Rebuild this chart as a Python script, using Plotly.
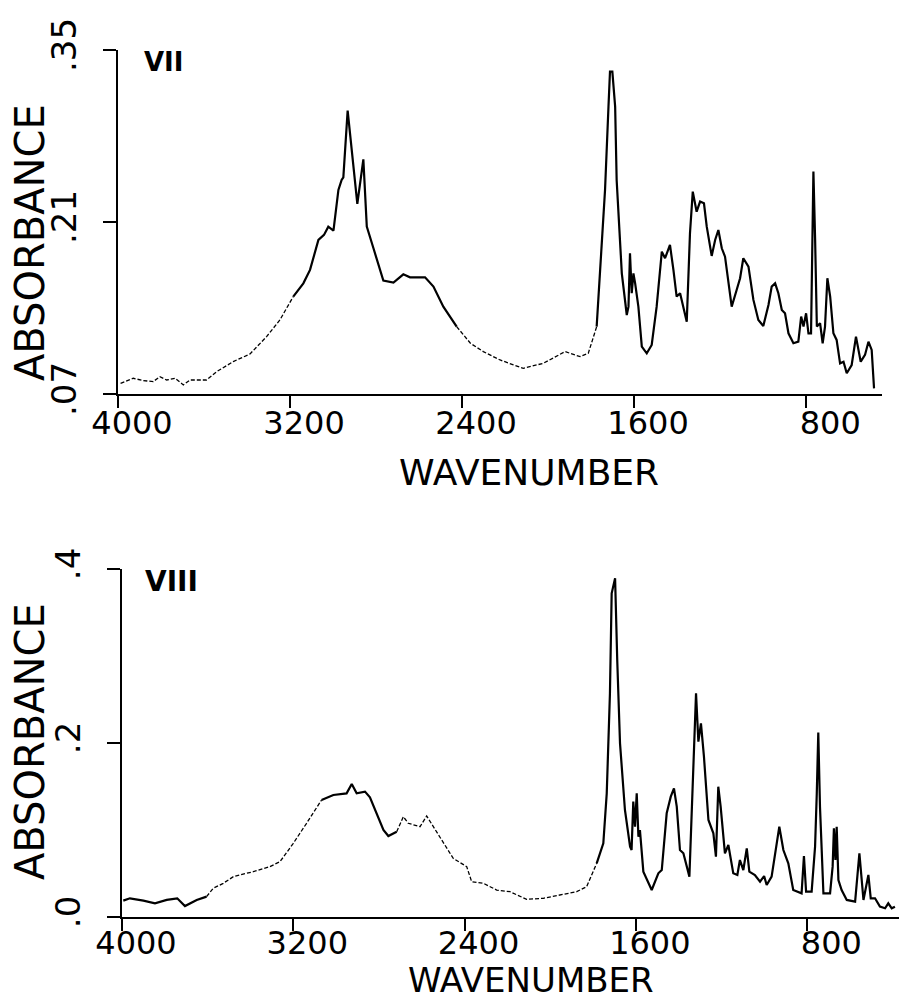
import plotly.graph_objects as go

# ---------------- data ----------------
WN_VII = [3988, 3929, 3882, 3836, 3805, 3774, 3735, 3696, 3665, 3588, 3541, 3464, 3386, 3309,
          3247, 3185, 3138, 3107, 3068, 3042, 3022, 2998, 2975, 2960, 2952, 2932, 2913, 2887,
          2859, 2843, 2812, 2766, 2719, 2673, 2642, 2572, 2533, 2487, 2425, 2361, 2301, 2223,
          2161, 2115, 2022, 1921, 1851, 1813, 1774, 1758, 1735, 1719, 1712, 1701, 1688, 1681,
          1657, 1634, 1626, 1619, 1611, 1603, 1595, 1580, 1564, 1541, 1518, 1495, 1471, 1456,
          1433, 1417, 1402, 1386, 1355, 1340, 1327, 1309, 1293, 1275, 1262, 1239, 1223, 1208,
          1192, 1177, 1146, 1123, 1107, 1092, 1068, 1045, 1022, 999, 975, 960, 944, 929, 913,
          898, 882, 859, 836, 823, 812, 800, 789, 777, 766, 758, 750, 735, 723, 712, 701, 688,
          673, 658, 642, 626, 611, 588, 568, 546, 526, 510, 495, 484]
ABS_VII = [0.0787, 0.0828, 0.0809, 0.0801, 0.0841, 0.0814, 0.0828, 0.0774, 0.0814, 0.0814,
           0.0882, 0.0964, 0.1026, 0.1167, 0.1303, 0.1493, 0.1601, 0.1710, 0.1954, 0.1995,
           0.2062, 0.2030, 0.2361, 0.2442, 0.2464, 0.3006, 0.2686, 0.2247, 0.2610, 0.2062,
           0.1886, 0.1623, 0.1607, 0.1674, 0.1650, 0.1650, 0.1574, 0.1411, 0.1248, 0.1113,
           0.1045, 0.0977, 0.0937, 0.0909, 0.0950, 0.1045, 0.1004, 0.1031, 0.1248, 0.1682,
           0.2361, 0.3039, 0.3324, 0.3324, 0.3039, 0.2442, 0.1682, 0.1343, 0.1411, 0.1845,
           0.1520, 0.1682, 0.1601, 0.1411, 0.1086, 0.1031, 0.1099, 0.1411, 0.1859, 0.1805,
           0.1913, 0.1710, 0.1493, 0.1520, 0.1289, 0.2008, 0.2347, 0.2184, 0.2266, 0.2252,
           0.2062, 0.1824, 0.1954, 0.2035, 0.1886, 0.1818, 0.1411, 0.1547, 0.1642, 0.1805,
           0.1737, 0.1466, 0.1303, 0.1254, 0.1425, 0.1574, 0.1601, 0.1520, 0.1384, 0.1357,
           0.1194, 0.1113, 0.1126, 0.1330, 0.1249, 0.1357, 0.1194, 0.1194, 0.2510, 0.1954,
           0.1249, 0.1276, 0.1113, 0.1249, 0.1642, 0.1493, 0.1194, 0.1140, 0.0950, 0.0963,
           0.0869, 0.0936, 0.1167, 0.0963, 0.1018, 0.1126, 0.1059, 0.0746]

WN_VIII = [3994, 3963, 3900, 3846, 3791, 3742, 3706, 3651, 3605, 3574, 3527, 3480, 3387, 3309,
           3262, 3200, 3138, 3068, 3013, 2951, 2927, 2904, 2865, 2842, 2811, 2779, 2756, 2717,
           2686, 2663, 2608, 2577, 2546, 2499, 2453, 2390, 2367, 2312, 2250, 2188, 2110, 2032,
           1954, 1876, 1830, 1783, 1752, 1736, 1721, 1713, 1697, 1687, 1674, 1651, 1627, 1620,
           1612, 1604, 1596, 1588, 1581, 1565, 1526, 1495, 1479, 1456, 1437, 1422, 1409, 1394,
           1378, 1350, 1335, 1319, 1308, 1296, 1282, 1261, 1238, 1226, 1215, 1204, 1184, 1168,
           1145, 1126, 1114, 1098, 1082, 1070, 1044, 1020, 1001, 989, 966, 950, 930, 911, 888,
           865, 826, 815, 805, 779, 763, 755, 748, 740, 724, 693, 681, 675, 668, 662, 654, 639,
           615, 576, 556, 537, 514, 503, 483, 460, 436, 421, 405, 390]
ABS_VIII = [0.0188, 0.0215, 0.0188, 0.0157, 0.0196, 0.0215, 0.0126, 0.0196, 0.0234, 0.0330,
            0.0387, 0.0464, 0.0521, 0.0579, 0.0636, 0.0847, 0.1077, 0.1345, 0.1402, 0.1421,
            0.1529, 0.1421, 0.1441, 0.1376, 0.1192, 0.1000, 0.0931, 0.0981, 0.1153, 0.1077,
            0.1038, 0.1161, 0.1038, 0.0866, 0.0674, 0.0579, 0.0406, 0.0387, 0.0310, 0.0291,
            0.0203, 0.0215, 0.0253, 0.0291, 0.0349, 0.0617, 0.0847, 0.1421, 0.2571, 0.3720,
            0.3893, 0.2954, 0.1996, 0.1230, 0.0808, 0.0770, 0.1326, 0.1038, 0.1421, 0.0923,
            0.1000, 0.0521, 0.0310, 0.0502, 0.0540, 0.1192, 0.1383, 0.1479, 0.1268, 0.0770,
            0.0732, 0.0464, 0.1421, 0.2571, 0.2015, 0.2226, 0.1843, 0.1115, 0.0962, 0.0694,
            0.1498, 0.1268, 0.0732, 0.0828, 0.0502, 0.0483, 0.0655, 0.0540, 0.0789, 0.0521,
            0.0483, 0.0406, 0.0471, 0.0368, 0.0464, 0.0732, 0.1038, 0.0770, 0.0617, 0.0310,
            0.0272, 0.0701, 0.0291, 0.0291, 0.0808, 0.1421, 0.2119, 0.1268, 0.0272, 0.0272,
            0.0579, 0.1019, 0.0655, 0.1038, 0.0425, 0.0310, 0.0196, 0.0176, 0.0732, 0.0196,
            0.0483, 0.0215, 0.0215, 0.0119, 0.0100, 0.0157, 0.0100, 0.0119]

# wavenumber ranges drawn faintly (broken pen line) in the reference
FAINT_VII = [(4000, 3200), (2420, 1790)]
FAINT_VIII = [(3620, 3080), (2720, 1790)]

X_TICKS = [4000, 3200, 2400, 1600, 800]
X_TICKTEXT = ["4000", "3200", "2400", "1600", "\u2007800"]
Y_TICKS_VII = [0.07, 0.21, 0.35]
Y_TICKTEXT_VII = [".07", ".21", ".35"]
Y_TICKS_VIII = [0.0, 0.2, 0.4]
Y_TICKTEXT_VIII = [".0", ".2", ".4"]

W, H = 904, 1001
FONT = "DejaVu Sans"


def split(wn, ab, faint):
    def is_faint(x):
        return any(lo >= x >= hi for lo, hi in faint)
    sx, sy, fx, fy = [], [], [], []
    for i in range(len(wn) - 1):
        mid = 0.5 * (wn[i] + wn[i + 1])
        tx, ty = (fx, fy) if is_faint(mid) else (sx, sy)
        if tx and tx[-1] == wn[i]:
            tx.append(wn[i + 1]); ty.append(ab[i + 1])
        else:
            if tx:
                tx.append(None); ty.append(None)
            tx += [wn[i], wn[i + 1]]; ty += [ab[i], ab[i + 1]]
    return sx, sy, fx, fy


fig = go.Figure()
for wn, ab, faint, xa, ya in [(WN_VII, ABS_VII, FAINT_VII, "x", "y"),
                              (WN_VIII, ABS_VIII, FAINT_VIII, "x2", "y2")]:
    sx, sy, fx, fy = split(wn, ab, faint)
    fig.add_trace(go.Scatter(x=sx, y=sy, mode="lines", xaxis=xa, yaxis=ya,
                             line=dict(color="black", width=2.2), connectgaps=False,
                             showlegend=False, hoverinfo="skip"))
    fig.add_trace(go.Scatter(x=fx, y=fy, mode="lines", xaxis=xa, yaxis=ya,
                             line=dict(color="black", width=1.3, dash="4px,2px"),
                             connectgaps=False, showlegend=False, hoverinfo="skip"))

common_x = dict(showgrid=False, zeroline=False, showline=True, linecolor="black", linewidth=2,
                ticks="outside", ticklen=12, tickwidth=2, tickcolor="black", automargin=False,
                tickvals=X_TICKS, ticktext=X_TICKTEXT, ticklabelshift=-14,
                ticklabelstandoff=-12,
                tickfont=dict(family=FONT, size=32, color="black"))
common_y = dict(showgrid=False, zeroline=False, showline=True, linecolor="black", linewidth=2,
                ticks="outside", ticklen=13, tickwidth=2, tickcolor="black", tickangle=-90,
                automargin=False,
                tickfont=dict(family=FONT, size=34, color="black"), ticklabelstandoff=13)

fig.update_layout(
    width=W, height=H, autosize=False, margin=dict(l=0, r=0, t=0, b=0),
    paper_bgcolor="white", plot_bgcolor="white", showlegend=False,
    xaxis=dict(common_x, domain=[118 / W, 882 / W], range=[4000, 447], anchor="y"),
    yaxis=dict(common_y, domain=[1 - 394 / H, 1 - 50 / H], range=[0.07, 0.35],
               tickvals=Y_TICKS_VII, ticktext=Y_TICKTEXT_VII, anchor="x"),
    xaxis2=dict(common_x, domain=[122 / W, 899 / W], range=[4000, 371], anchor="y2",
                ticklabelstandoff=-15),
    yaxis2=dict(common_y, domain=[1 - 917 / H, 1 - 569 / H], range=[0.0, 0.4],
                tickvals=Y_TICKS_VIII, ticktext=Y_TICKTEXT_VIII, anchor="x2"),
)

ann = [
    dict(text="<b>VII</b>", x=142 / W, y=1 - 62 / H, xanchor="left", yanchor="middle",
         font=dict(family=FONT, size=26)),
    dict(text="<b>VIII</b>", x=143 / W, y=1 - 581 / H, xanchor="left", yanchor="middle",
         font=dict(family=FONT, size=28)),
    dict(text="WAVENUMBER", x=529 / W, y=1 - 472 / H, xanchor="center", yanchor="middle",
         font=dict(family=FONT, size=36)),
    dict(text="WAVENUMBER", x=531 / W, y=0, xanchor="center", yanchor="bottom",
         borderpad=0, font=dict(family=FONT, size=34)),
    dict(text="ABSORBANCE", x=30 / W, y=1 - 243 / H, xanchor="center", yanchor="middle",
         textangle=-90, font=dict(family=FONT, size=40)),
    dict(text="ABSORBANCE", x=30 / W, y=1 - 742 / H, xanchor="center", yanchor="middle",
         textangle=-90, font=dict(family=FONT, size=40)),
]
for a in ann:
    a.update(xref="paper", yref="paper", showarrow=False)
    a["font"]["color"] = "black"
fig.update_layout(annotations=ann)

fig.write_html("out.html", config={"displayModeBar": False},
               post_script="document.body.style.margin='0px';")
